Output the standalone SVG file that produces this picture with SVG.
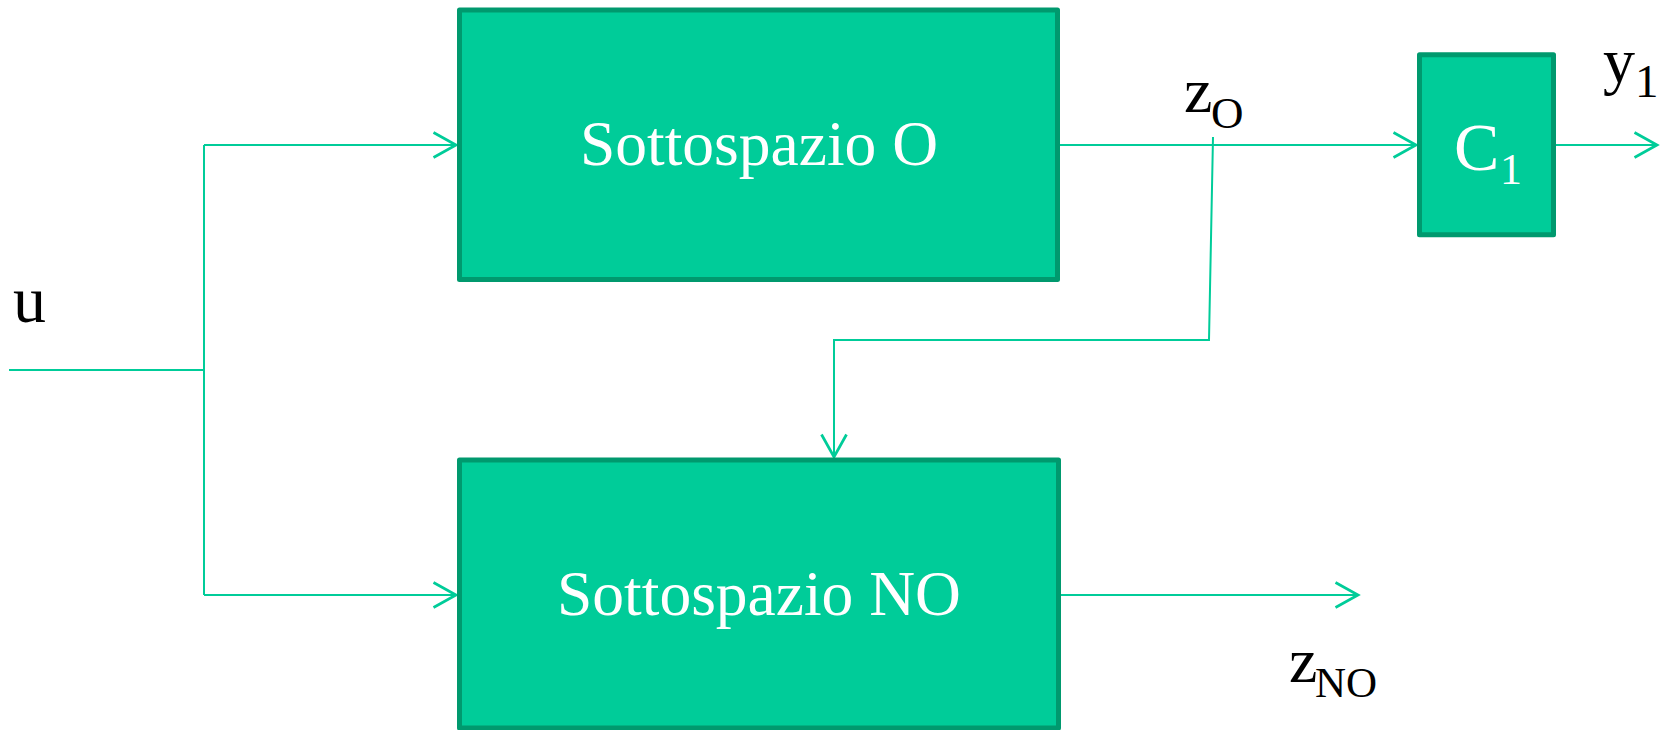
<svg xmlns="http://www.w3.org/2000/svg" width="1665" height="730" viewBox="0 0 1665 730">
<style>
.box{fill:#00CC99;stroke:#00996E;stroke-width:5;stroke-linejoin:round}
.lbl{font-family:"Liberation Serif","Times New Roman",serif;fill:#000}
.wl{font-family:"Liberation Serif","Times New Roman",serif;fill:#fff}
.c{fill:none;stroke:#00CC99;stroke-width:2}
</style>
<defs>
<marker id="arr" markerUnits="userSpaceOnUse" markerWidth="30" markerHeight="30" refX="0" refY="0" viewBox="-20 -12 22 24" orient="auto" overflow="visible">
<path d="M-18,-10 L0,0 L-18,10" fill="none" stroke="#00CC99" stroke-width="2.2"/>
</marker>
</defs>
<rect width="1665" height="730" fill="#fff"/>
<g id="connectors">
<path class="c" d="M9 370 H204"/>
<path class="c" d="M204 145 V595"/>
<path class="c" d="M204 145 H456" marker-end="url(#arr)"/>
<path class="c" d="M204 595 H456" marker-end="url(#arr)"/>
<path class="c" d="M1060 145 H1416" marker-end="url(#arr)"/>
<path class="c" d="M1556 145 H1657" marker-end="url(#arr)"/>
<path class="c" d="M1213 137 L1209 340 H834 V457" marker-end="url(#arr)"/>
<path class="c" d="M1061 595 H1358" marker-end="url(#arr)"/>
</g>
<g id="node-O">
<rect class="box" x="459.5" y="10" width="598" height="269.5"/>
<text class="wl" x="759" y="165" font-size="63.5" text-anchor="middle">Sottospazio O</text>
</g>
<g id="node-NO">
<rect class="box" x="459.5" y="460" width="599" height="268"/>
<text class="wl" x="759" y="615" font-size="63.5" text-anchor="middle">Sottospazio NO</text>
</g>
<g id="node-C1">
<rect class="box" x="1419.5" y="54.8" width="134" height="180"/>
<text class="wl" x="1454" y="170" font-size="68">C<tspan x="1500" y="184" font-size="44">1</tspan></text>
</g>
<g id="labels">
<text class="lbl" x="13" y="322" font-size="66">u</text>
<text class="lbl" x="1184" y="112" font-size="64">z<tspan x="1211" y="128" font-size="45">O</tspan></text>
<text class="lbl" x="1603" y="82" font-size="64">y<tspan x="1635" y="97" font-size="47">1</tspan></text>
<text class="lbl" x="1289" y="682" font-size="64">z<tspan x="1315" y="697" font-size="43">NO</tspan></text>
</g>
</svg>
